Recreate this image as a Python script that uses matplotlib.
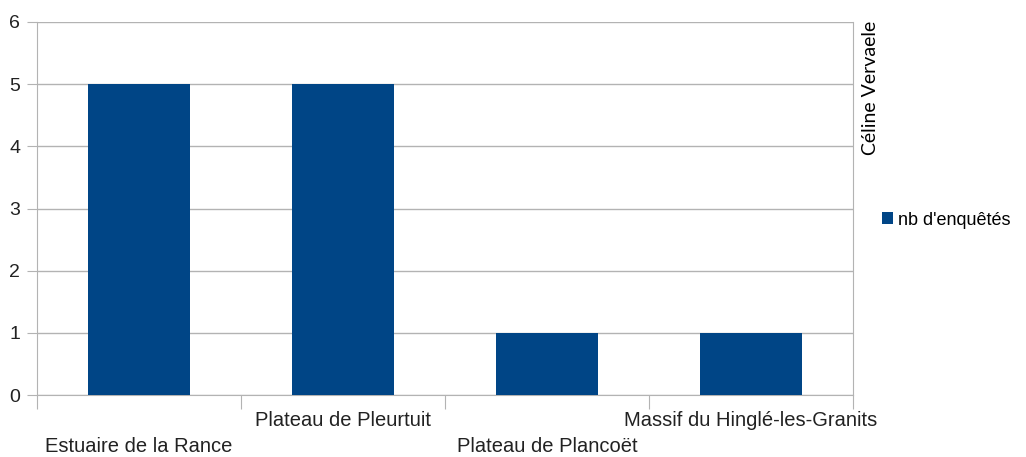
import matplotlib
matplotlib.use("Agg")
import matplotlib.pyplot as plt
import numpy as np

categories = ["Estuaire de la Rance", "Plateau de Pleurtuit", "Plateau de Plancoët", "Massif du Hinglé-les-Granits"]
values = [5, 5, 1, 1]
series_name = "nb d'enquêtés"
yticks = [0, 1, 2, 3, 4, 5, 6]

W, H = 1026, 457
fig = plt.figure(figsize=(W/100, H/100), dpi=100)
L, R, T, B = 37, 853, 22, 395
ax = fig.add_axes([L/W, 1 - B/H, (R-L)/W, (B-T)/H])

grid_c = "#b3b3b3"
bar_c = "#004586"
txt_c = "#222222"
x = np.arange(len(categories))
ax.bar(x, values, width=0.5, color=bar_c, zorder=3, label=series_name)
ax.set_xlim(-0.5, len(categories) - 0.5)
ax.set_ylim(0, 6)
ax.set_yticks(yticks)
ax.set_yticklabels([str(v) for v in yticks], fontsize=14, family="Liberation Sans", color=txt_c)
ax.yaxis.grid(True, color=grid_c, linewidth=1, zorder=0)
ax.tick_params(axis="y", length=7, color=grid_c, pad=5)

# category boundary ticks
ax.set_xticks(np.arange(-0.5, len(categories) + 0.5, 1.0))
ax.set_xticklabels([])
ax.tick_params(axis="x", length=10, color=grid_c)
for i, c in enumerate(categories):
    yoff = -26 if i % 2 == 1 else -52
    ax.annotate(c, xy=(i, 0), xycoords=("data", "data"), xytext=(0, yoff), textcoords="offset pixels",
                ha="center", va="center", fontsize=14.5, family="Liberation Sans", color=txt_c)

for s in ["left", "right", "bottom"]:
    ax.spines[s].set_color(grid_c)
ax.spines["top"].set_visible(False)

fig.text(870/W, 1 - 88/H, "Céline Vervaele", rotation=90, ha="center", va="center",
         fontsize=14, family="Lato", color="black")

leg = fig.legend(handles=[ax.patches[0]], labels=[series_name], loc="center left",
                 bbox_to_anchor=(866/W, 1 - 220/H), frameon=False, handlelength=0.6, handleheight=0.6,
                 handletextpad=0.25, prop={"family": "Liberation Sans", "size": 13})

fig.savefig("out.png", dpi=100)
